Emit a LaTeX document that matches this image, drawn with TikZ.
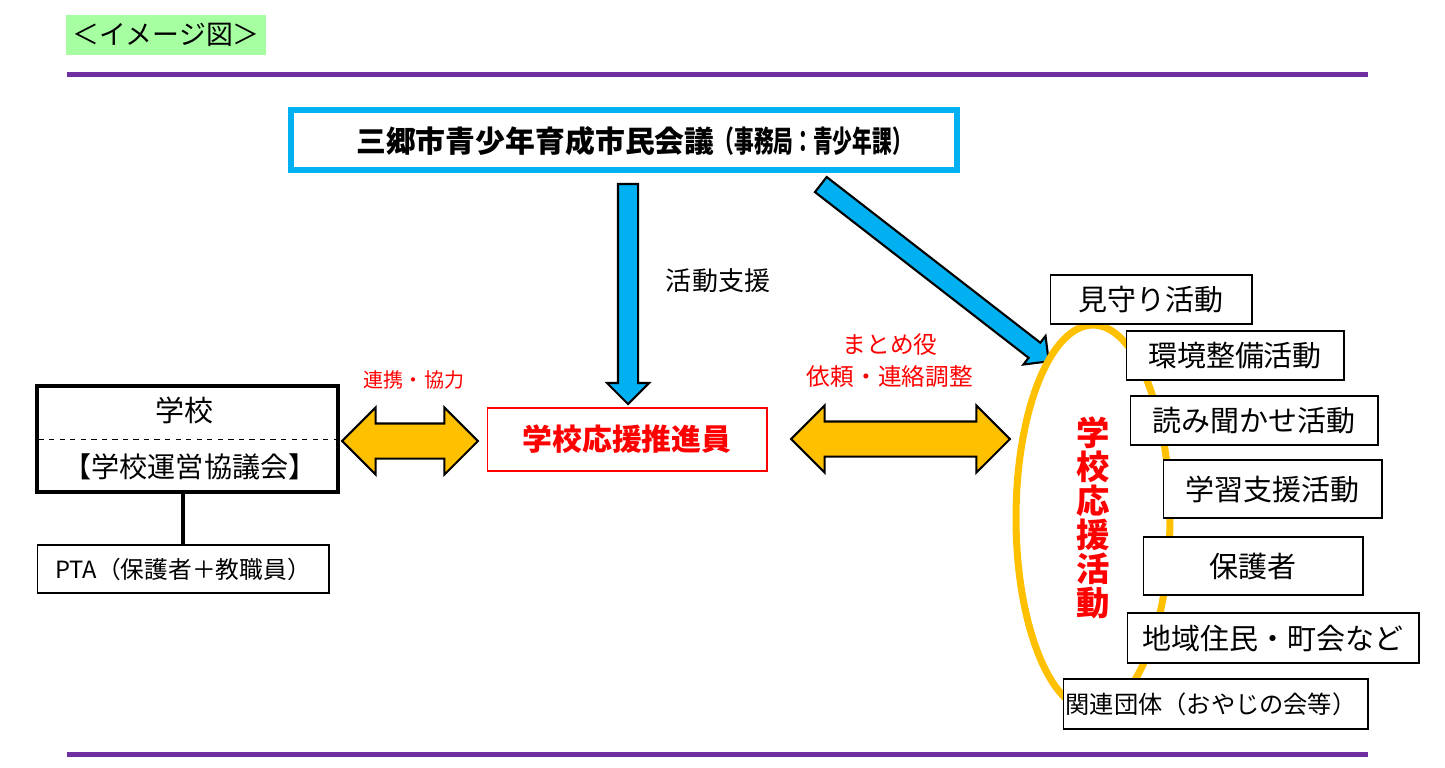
\documentclass[tikz,border=0pt]{standalone}
\usepackage{fontspec}
\setmainfont{Noto Sans CJK JP}
\usepackage{graphicx}
\usetikzlibrary{shapes.arrows, shapes.geometric, positioning}
\definecolor{skyblue}{RGB}{0,176,240}
\definecolor{gold}{RGB}{255,192,0}
\definecolor{jred}{RGB}{255,0,0}
\definecolor{rulepurple}{RGB}{112,48,160}
\definecolor{tagreen}{RGB}{166,255,160}

\begin{document}
\begin{tikzpicture}[
    x=0.02cm, y=-0.02cm,
    council/.style   = {rectangle, draw=skyblue, line width=3.4pt,
                        minimum width=13.32cm, minimum height=1.2cm},
    school/.style    = {rectangle, draw=black, line width=2.3pt,
                        minimum width=6.02cm, minimum height=2.12cm},
    pta/.style       = {rectangle, draw=black, line width=0.6pt,
                        minimum width=5.84cm, minimum height=0.96cm,
                        font=\fontsize{13.5}{16}\selectfont},
    promoter/.style  = {rectangle, draw=jred, line width=0.6pt,
                        minimum width=5.6cm, minimum height=1.26cm,
                        text=jred, font=\bfseries\fontsize{17}{20}\selectfont},
    activity/.style  = {rectangle, draw=black, line width=0.6pt, fill=white,
                        minimum height=0.98cm, font=\fontsize{16.5}{19}\selectfont},
    bluearrow/.style = {single arrow, draw=black, fill=skyblue, line width=1.2pt,
                        inner xsep=0pt, single arrow tip angle=90},
    goldarrow/.style = {double arrow, draw=black, fill=gold, line width=1.2pt,
                        inner xsep=0pt, inner ysep=0.33cm,
                        double arrow head extend=0.32cm, double arrow tip angle=90},
    redlabel/.style  = {text=jred, align=center},
    rule/.style      = {rulepurple, line width=2.9pt},
]
\useasboundingbox (0,0) rectangle (1445,768);

% Title tag and rules
\node[fill=tagreen, minimum width=3.96cm, minimum height=0.8cm,
      font=\fontsize{15.3}{18}\selectfont] (tag) at (166,35) {＜イメージ図＞};
\draw[rule] (67,74.5) -- (1368,74.5);
\draw[rule] (67,754.5) -- (1368,754.5);

% Council (top)
\node[council] (council) at (624,140) {};
\node[font=\bfseries\fontsize{17}{20}\selectfont] (councilname) at (634,141)
  {三郷市青少年育成市民会議\scalebox{0.66}[1]{（事務局：青少年課）}};

% Blue arrows out of the council
\node[bluearrow, minimum height=4.4cm, inner ysep=0.18cm,
      single arrow head extend=0.22cm, rotate=-90] (supportarr) at (628,289) {};
\node[font=\fontsize{14.8}{17}\selectfont] (support) at (718,281) {活動支援};
\node[bluearrow, minimum height=5.77cm, inner ysep=0.17cm,
      single arrow head extend=0.17cm, rotate=-37.8] (diagarr) at (931,270) {};

% School and PTA (left)
\node[school] (school) at (187.5,439) {};
\node[font=\fontsize{16.5}{19}\selectfont] (schoolname) at (184,410) {学校};
\node[font=\fontsize{16}{19}\selectfont] (board) at (190,467) {【学校運営協議会】};
\draw[dashed, line width=0.5pt, shorten <=2pt, shorten >=2pt] (school.west) -- (school.east);
\node[pta] (pta) at (183,569) {PTA（保護者＋教職員）};
\draw[line width=2.8pt] (pta.north) -- (pta.north |- school.south);

% Promoter (centre) and gold arrows
\node[promoter] (promoter) at (627,439.5) {学校応援推進員};
\node[goldarrow, minimum height=2.72cm] (leftarr) at (410,441) {};
\node[redlabel, font=\fontsize{11.4}{14}\selectfont] (coop) at (414,380) {連携・協力};
\node[goldarrow, minimum height=4.38cm] (rightarr) at (900.5,439) {};
\node[redlabel, font=\fontsize{13.5}{18.2}\selectfont] (coord) at (890,361)
  {まとめ役\\依頼・連絡調整};

% Support activities (right)
\node[ellipse, draw=gold, line width=4pt, minimum width=3.08cm,
      minimum height=7.72cm, inner sep=0pt] (oval) at (1093,518) {};
\node[redlabel, font=\bfseries\fontsize{19}{19.4}\selectfont] (acttitle) at (oval.center)
  {学\\校\\応\\援\\活\\動};

\node[activity, minimum width=4.04cm] (watch)   at (1151,299.5) {見守り活動};
\node[activity, minimum width=4.36cm] (environ) at (1235,355.5) {環境整備活動};
\node[activity, minimum width=4.96cm] (reading) at (1254,420.5) {読み聞かせ活動};
\node[activity, minimum width=4.38cm, minimum height=1.16cm] (study)    at (1272.5,489) {学習支援活動};
\node[activity, minimum width=4.4cm, minimum height=1.16cm]  (guardian) at (1253,566) {保護者};
\node[activity, minimum width=5.84cm, minimum height=1.0cm]  (locals)   at (1273,638) {地域住民・町会など};
\node[activity, minimum height=1.0cm, text width=6.0cm, inner xsep=0.05cm,
      align=left, font=\fontsize{13.8}{16}\selectfont] (groups) at (1215.5,704)
  {関連団体（おやじの会等）};

\end{tikzpicture}
\end{document}
